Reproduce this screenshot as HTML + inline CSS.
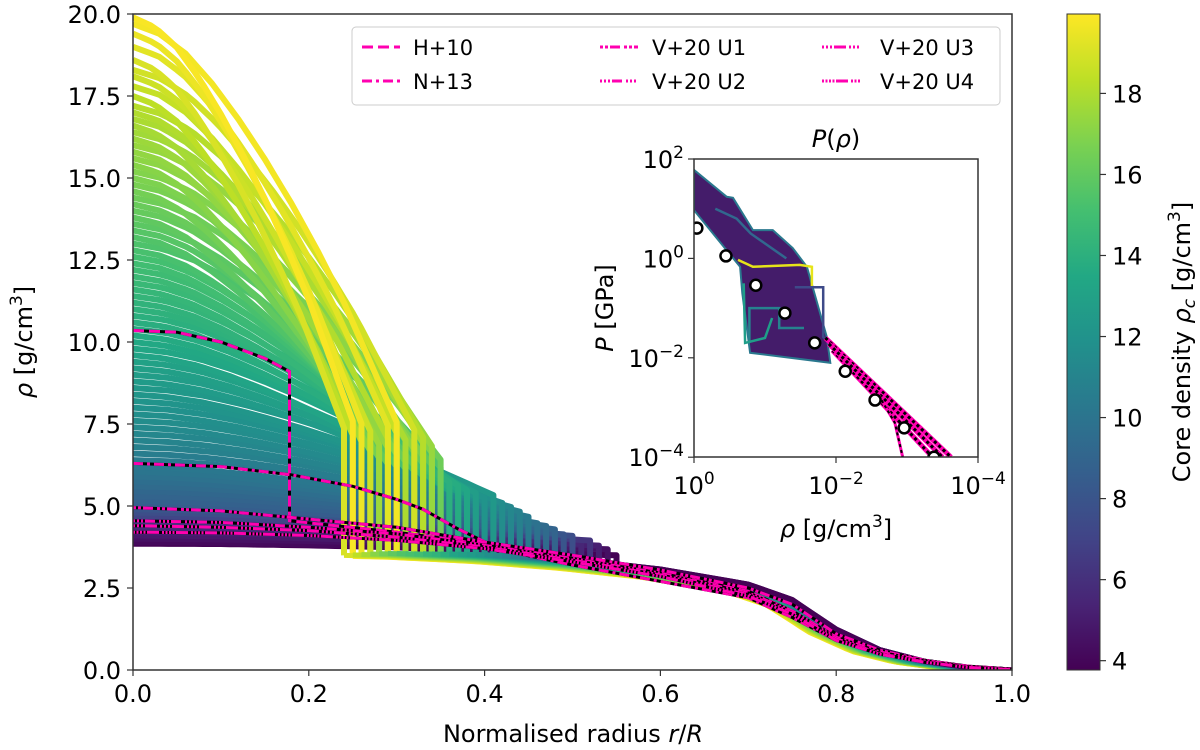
<!DOCTYPE html>
<html><head><meta charset="utf-8"><style>
html,body{margin:0;padding:0;background:#fff}
svg{display:block;font-family:"DejaVu Sans","Liberation Sans",sans-serif}
</style></head><body>
<svg id="chart" width="1200" height="750" viewBox="0 0 1200 750" xmlns="http://www.w3.org/2000/svg">
<defs>
<clipPath id="mainClip"><rect x="133" y="14" width="879" height="656"/></clipPath>
<clipPath id="insetClip"><rect x="694" y="159" width="284" height="298"/></clipPath>
<linearGradient id="cbGrad" x1="0" y1="1" x2="0" y2="0">
<stop offset="0" stop-color="#440154"/><stop offset="0.1" stop-color="#482475"/><stop offset="0.2" stop-color="#414487"/><stop offset="0.3" stop-color="#355f8d"/><stop offset="0.4" stop-color="#2a788e"/><stop offset="0.5" stop-color="#21918c"/><stop offset="0.6" stop-color="#22a884"/><stop offset="0.7" stop-color="#44bf70"/><stop offset="0.8" stop-color="#7ad151"/><stop offset="0.9" stop-color="#bddf26"/><stop offset="1" stop-color="#fde725"/>
</linearGradient>
</defs>
<g id="ensemble" clip-path="url(#mainClip)"></g>
<g id="models" clip-path="url(#mainClip)"></g>
<rect x="133" y="14" width="879" height="656" fill="none" stroke="#333" stroke-width="1.5"/>
<g id="mainAxes"></g>
<text x="573" y="742" font-size="24" text-anchor="middle">Normalised radius <tspan font-style="italic">r</tspan>/<tspan font-style="italic">R</tspan></text>
<text transform="translate(32,342) rotate(-90)" font-size="24" text-anchor="middle"><tspan font-style="italic">ρ</tspan> [g/cm<tspan dy="-10" font-size="17">3</tspan><tspan dy="10">]</tspan></text>

<g>
<rect x="352" y="27" width="648" height="78" rx="4" fill="#fff" fill-opacity="0.85" stroke="#ccc" stroke-width="1"/>
<g><line x1="362" y1="47" x2="400" y2="47" stroke="#ff00b0" stroke-width="3" stroke-dasharray="11,5"/><text x="413" y="55" font-size="21">H+10</text></g>
<g><line x1="362" y1="81" x2="400" y2="81" stroke="#ff00b0" stroke-width="3" stroke-dasharray="10,4,3,4"/><text x="413" y="89" font-size="21">N+13</text></g>
<g><line x1="600" y1="47" x2="638" y2="47" stroke="#ff00b0" stroke-width="3" stroke-dasharray="3,2,3,2,10,4"/><text x="652" y="55" font-size="21">V+20 U1</text></g>
<g><line x1="600" y1="81" x2="638" y2="81" stroke="#ff00b0" stroke-width="3" stroke-dasharray="2,2,2,2,2,2,10,4"/><text x="652" y="89" font-size="21">V+20 U2</text></g>
<g><line x1="822" y1="47" x2="860" y2="47" stroke="#ff00b0" stroke-width="3" stroke-dasharray="2,2,2,2,2,2,12,3"/><text x="880" y="55" font-size="21">V+20 U3</text></g>
<g><line x1="822" y1="81" x2="860" y2="81" stroke="#ff00b0" stroke-width="3" stroke-dasharray="2,1.5,2,1.5,2,1.5,2,1.5,12,3"/><text x="880" y="89" font-size="21">V+20 U4</text></g>
</g>

<g>
<rect x="694" y="159" width="284" height="298" fill="#fff"/>
<g id="insetMarks" clip-path="url(#insetClip)"></g>
<rect x="694" y="159" width="284" height="298" fill="none" stroke="#333" stroke-width="1.5"/>
<g id="insetAxes"></g>
<text x="836" y="147" font-size="24" text-anchor="middle"><tspan font-style="italic">P</tspan>(<tspan font-style="italic">ρ</tspan>)</text>
<text transform="translate(613,308) rotate(-90)" font-size="24" text-anchor="middle"><tspan font-style="italic">P</tspan> [GPa]</text>
<text x="836" y="537" font-size="24" text-anchor="middle"><tspan font-style="italic">ρ</tspan> [g/cm<tspan dy="-10" font-size="17">3</tspan><tspan dy="10">]</tspan></text>
</g>

<g>
<rect x="1067" y="14" width="33" height="656" fill="url(#cbGrad)" stroke="#333" stroke-width="1"/>
<g id="cbAxis"></g>
<text transform="translate(1190,342) rotate(-90)" font-size="24" text-anchor="middle">Core density <tspan font-style="italic">ρ</tspan><tspan font-size="17" dy="5" font-style="italic">c</tspan><tspan dy="-5"> [g/cm</tspan><tspan dy="-10" font-size="17">3</tspan><tspan dy="10">]</tspan></text>
</g>
</svg>
<script>
// ---- data ----
var rhoC = [3.8,3.9,4.0,4.1,4.2,4.3,4.4,4.5,4.6,4.7,
4.8,4.9,5.0,5.15,5.3,5.45,5.6,5.75,5.9,6.05,
6.2,6.4,6.6,6.8,7.0,7.2,7.4,7.6,7.8,8.0,
8.2,8.4,8.6,8.8,9.0,9.2,9.4,9.6,9.8,10.0,
10.2,10.4,10.6,10.8,11.0,11.2,11.4,11.6,11.8,12.0,
12.2,12.4,12.6,12.8,13.0,13.2,13.4,13.6,13.8,14.0,
14.2,14.4,14.6,14.8,15.0,15.2,15.4,15.6,15.8,16.0,
16.2,16.4,16.6,16.8,17.0,17.2,17.5,17.8,18.1,18.3,
18.6,19.0,19.4,19.7,19.9];
var coreR = [.55,.52,.54,.5,.53,.51,.49,.52,.5,.48,
.5,.49,.48,.47,.48,.46,.47,.45,.46,.45,
.44,.45,.43,.44,.42,.43,.41,.42,.4,.41,
.4,.39,.41,.38,.39,.37,.38,.36,.38,.37,
.36,.37,.35,.36,.35,.34,.35,.33,.34,.33,
.34,.32,.33,.31,.35,.3,.32,.34,.29,.33,
.31,.35,.28,.33,.3,.34,.27,.32,.29,.34,
.28,.33,.26,.31,.29,.33,.25,.3,.27,.32,
.24,.29,.26,.3,.25];
// colour scale value (core density) as a function of the central density
var colorKeyRho = [3.8,4.5,5.0,6.0,7.5,10,12.5,15,20];
var colorKeyVal = [3.8,6.2,8.5,10.0,11.5,13.5,15.0,16.8,19.9];
var mantleR = [0,0.1,0.2,0.3,0.4,0.5,0.6,0.7,0.75,0.8,0.85,0.9,0.95,1.0];
var mantleRho = [3.85,3.84,3.8,3.74,3.6,3.38,3.08,2.62,2.15,1.25,0.62,0.27,0.08,0];
var coreShapeU = [0,.1,.2,.3,.4,.5,.6,.7,.8,.9,1];
var coreShapeH = [0,.025,.075,.15,.24,.34,.45,.57,.7,.85,1];
var dropKeys = [4,6,10,14,20];
var dropVals = [0.08,0.25,0.45,0.55,0.62];

var modelNames = ["H+10","N+13","V+20 U1","V+20 U2","V+20 U3","V+20 U4"];
var modelR = [
[0,0.05,0.1,0.15,0.178,0.178,0.3,0.4,0.5,0.6,0.7,0.75,0.8,0.85,0.9,0.95,1],
[0,0.1,0.18,0.25,0.3,0.33,0.37,0.42,0.5,0.6,0.7,0.75,0.8,0.85,0.9,0.95,1],
[0,0.1,0.2,0.3,0.4,0.5,0.6,0.7,0.75,0.8,0.85,0.9,0.95,1],
[0,0.1,0.2,0.3,0.4,0.5,0.6,0.7,0.75,0.8,0.85,0.9,0.95,1],
[0,0.1,0.2,0.3,0.4,0.5,0.6,0.7,0.75,0.8,0.85,0.9,0.95,1],
[0,0.1,0.2,0.3,0.4,0.5,0.6,0.7,0.75,0.8,0.85,0.9,0.95,1]];
var modelRho = [
[10.35,10.3,10.0,9.5,9.1,4.55,4.2,3.85,3.4,3.0,2.4,1.8,1.0,0.5,0.25,0.1,0.02],
[6.3,6.2,5.95,5.6,5.2,4.9,4.3,3.65,3.2,2.7,2.2,1.6,0.9,0.55,0.3,0.12,0.03],
[4.95,4.85,4.6,4.35,3.9,3.5,3.05,2.5,2.0,1.1,0.6,0.3,0.1,0.02],
[4.55,4.5,4.35,4.15,3.8,3.4,2.95,2.35,1.8,1.0,0.55,0.28,0.1,0.02],
[4.4,4.35,4.25,4.05,3.75,3.35,2.9,2.3,1.75,0.95,0.5,0.25,0.08,0.02],
[4.2,4.18,4.1,3.95,3.7,3.3,2.85,2.25,1.7,0.9,0.48,0.24,0.08,0.01]];
var modelDash = ["11,5","10,4,3,4","3,2,3,2,10,4","2,2,2,2,2,2,10,4","2,2,2,2,2,2,12,3","2,1.5,2,1.5,2,1.5,2,1.5,12,3"];

var xTicks = [0,0.2,0.4,0.6,0.8,1.0];
var xTickLabels = ["0.0","0.2","0.4","0.6","0.8","1.0"];
var yTicks = [0,2.5,5,7.5,10,12.5,15,17.5,20];
var yTickLabels = ["0.0","2.5","5.0","7.5","10.0","12.5","15.0","17.5","20.0"];
var cbTicks = [4,6,8,10,12,14,16,18];
var cbMin = 3.77, cbMax = 19.96;

// inset data (log10 rho, log10 P)
var bandUpperLr = [0,-0.46,-0.55,-0.83,-1.11,-1.39,-1.59,-1.87,-1.92];
var bandUpperLp = [1.78,1.24,1.22,0.57,0.57,0.21,-0.17,-1.58,-2.1];
var bandLowerLr = [0,-0.65,-0.68,-0.79,-1.92];
var bandLowerLp = [0.97,-0.17,-0.7,-1.9,-2.1];
var insetLinesLr = [[-0.62,-0.83,-1.49,-1.66,-1.66],[-1.42,-1.82,-1.82,-1.92],[-0.78,-0.78,-1.2,-1.2,-1.55],[-0.3,-0.6,-0.8,-1.0,-1.3],[-0.7,-0.72,-1.0,-1.1]];
var insetLinesLp = [[-0.03,-0.17,-0.13,-0.17,-0.58],[-0.58,-0.58,-1.58,-1.74],[-1.7,-1.0,-1.0,-1.4,-1.4],[1.0,0.8,0.5,0.3,0.0],[-0.5,-1.7,-1.6,-1.2]];
var insetLineColors = ["#e6e419","#3e4a89","#26828e","#31688e","#1f9e89"];
var pinkLr = [[-1.85,-3.62],[-1.95,-3.36],[-1.9,-3.5],[-2.6,-2.83,-2.94]];
var pinkLp = [[-1.6,-4.0],[-1.85,-4.0],[-1.72,-4.0],[-2.75,-3.31,-4.0]];
var circLr = [-0.04,-0.45,-0.87,-1.28,-1.70,-2.13,-2.55,-2.96,-3.38];
var circLp = [0.61,0.05,-0.54,-1.10,-1.70,-2.27,-2.85,-3.41,-4.0];
var insetYTicks = [2,0,-2,-4];
var insetXTicks = [0,-2,-4];

// ---- helpers ----
var NS = "http://www.w3.org/2000/svg";
function xS(r){return 133 + r*879;}
function yS(v){return 670 - v*32.8;}
function ix(lr){return 694 + (-lr)*71;}
function iy(lp){return 159 + (2-lp)*49.7;}
function cy(v){return 670 - (v-cbMin)/(cbMax-cbMin)*656;}
function interp(xs, ys, x){
  if (x<=xs[0]) return ys[0];
  for (var i=1;i<xs.length;i++){ if (x<=xs[i]){ var f=(x-xs[i-1])/(xs[i]-xs[i-1]); return ys[i-1]+f*(ys[i]-ys[i-1]); } }
  return ys[ys.length-1];
}
var vir = ["#440154","#482475","#414487","#355f8d","#2a788e","#21918c","#22a884","#44bf70","#7ad151","#bddf26","#fde725"];
function hex(c){return [parseInt(c.substr(1,2),16),parseInt(c.substr(3,2),16),parseInt(c.substr(5,2),16)];}
function viridis(t){
  t=Math.max(0,Math.min(1,t)); var p=t*10, i=Math.min(9,Math.floor(p)), f=p-i;
  var a=hex(vir[i]), b=hex(vir[i+1]);
  return "rgb("+Math.round(a[0]+f*(b[0]-a[0]))+","+Math.round(a[1]+f*(b[1]-a[1]))+","+Math.round(a[2]+f*(b[2]-a[2]))+")";
}
function mk(tag, attrs, parent){var e=document.createElementNS(NS,tag); for (var k in attrs) e.setAttribute(k, attrs[k]); parent.appendChild(e); return e;}

// ---- ensemble ----
var ens = document.getElementById("ensemble");
var coreParts = [], mantleParts = [], colors = [];
for (var c=0;c<rhoC.length;c++){
  var rc0 = rhoC[c], rcut = coreR[c];
  var t = (rc0-3.8)/16.1;
  var s = interp(dropKeys, dropVals, rc0);
  var a = 1-0.08*t;
  var mantle = (function(a,t){ return function(r){ return a*interp(mantleR, mantleRho, Math.min(1, r*(1+0.04*t))); }; })(a,t);
  var cp=[], mp=[];
  for (var k=0;k<=100;k++){
    var r=k/100;
    if (r<=rcut){
      var v = Math.max(rc0*(1-s*interp(coreShapeU, coreShapeH, r/rcut)), mantle(r));
      cp.push(xS(r).toFixed(1)+","+yS(v).toFixed(1));
      if ((k+1)/100>rcut){
        var ve = Math.max(rc0*(1-s), mantle(rcut));
        cp.push(xS(rcut).toFixed(1)+","+yS(ve).toFixed(1));
        cp.push(xS(rcut).toFixed(1)+","+yS(mantle(rcut)).toFixed(1));
        mp.push(xS(rcut).toFixed(1)+","+yS(mantle(rcut)).toFixed(1));
      }
    } else {
      mp.push(xS(r).toFixed(1)+","+yS(mantle(r)).toFixed(1));
    }
  }
  coreParts.push(cp); mantleParts.push(mp);
  colors.push(viridis((interp(colorKeyRho, colorKeyVal, rc0)-cbMin)/(cbMax-cbMin)));
}
// cores: ascending (bright on top)
for (var c=0;c<rhoC.length;c++){
  var pl = mk("polyline",{points:coreParts[c].join(" "),fill:"none",stroke:colors[c],"stroke-width":"6","stroke-linejoin":"round"},ens);
  
  
}
// mantles: descending (dark on top)
for (var c=rhoC.length-1;c>=0;c--){
  var pl = mk("polyline",{points:mantleParts[c].join(" "),fill:"none",stroke:colors[c],"stroke-width":"5","stroke-linejoin":"round"},ens);
  
  
}

// ---- model curves ----
var mg = document.getElementById("models");
for (var m=0;m<modelNames.length;m++){
  var p=[];
  for (var j=0;j<modelR[m].length;j++) p.push(xS(modelR[m][j]).toFixed(1)+","+yS(modelRho[m][j]).toFixed(1));
  var b = mk("polyline",{points:p.join(" "),fill:"none",stroke:"#000","stroke-width":"3"},mg);
  
  
  var d = mk("polyline",{points:p.join(" "),fill:"none",stroke:"#ff00b0","stroke-width":"3","stroke-dasharray":modelDash[m]},mg);
  
  
}

// ---- main axes ----
var ax = document.getElementById("mainAxes");
for (var i=0;i<xTicks.length;i++){
  var tk = mk("line",{x1:xS(xTicks[i]),y1:670,x2:xS(xTicks[i]),y2:676,stroke:"#333","stroke-width":"1.2"},ax);
  
  
  var tl = mk("text",{x:xS(xTicks[i]),y:702,"font-size":"24","text-anchor":"middle"},ax);
  tl.textContent = xTickLabels[i];
  
  
}
for (var i=0;i<yTicks.length;i++){
  var tk = mk("line",{x1:127,y1:yS(yTicks[i]),x2:133,y2:yS(yTicks[i]),stroke:"#333","stroke-width":"1.2"},ax);
  
  
  var tl = mk("text",{x:121,y:yS(yTicks[i])+9,"font-size":"24","text-anchor":"end"},ax);
  tl.textContent = yTickLabels[i];
  
  
}

// ---- inset ----
var im = document.getElementById("insetMarks");
var bp=[];
for (var i=0;i<bandUpperLr.length;i++) bp.push(ix(bandUpperLr[i]).toFixed(1)+","+iy(bandUpperLp[i]).toFixed(1));
for (var i=bandLowerLr.length-1;i>=0;i--) bp.push(ix(bandLowerLr[i]).toFixed(1)+","+iy(bandLowerLp[i]).toFixed(1));
var band = mk("polygon",{points:bp.join(" "),fill:"#441c6a",stroke:"#2a788e","stroke-width":"2"},im);


for (var i=0;i<insetLinesLr.length;i++){
  var p=[]; for (var j=0;j<insetLinesLr[i].length;j++) p.push(ix(insetLinesLr[i][j]).toFixed(1)+","+iy(insetLinesLp[i][j]).toFixed(1));
  var l = mk("polyline",{points:p.join(" "),fill:"none",stroke:insetLineColors[i],"stroke-width":"2.5"},im);
  
  
}
for (var i=0;i<pinkLr.length;i++){
  var p=[]; for (var j=0;j<pinkLr[i].length;j++) p.push(ix(pinkLr[i][j]).toFixed(1)+","+iy(pinkLp[i][j]).toFixed(1));
  var l = mk("polyline",{points:p.join(" "),fill:"none",stroke:"#ff00b0","stroke-width":i==3?"3":"5"},im);
  
  
  var l2 = mk("polyline",{points:p.join(" "),fill:"none",stroke:"#000","stroke-width":i==3?"2":"3","stroke-dasharray":"3,3"},im);
  
  
}
for (var i=0;i<circLr.length;i++){
  var ci = mk("circle",{cx:ix(circLr[i]),cy:iy(circLp[i]),r:"5.5",fill:"#fff",stroke:"#000","stroke-width":"2.5"},im);
  
  
}
var ia = document.getElementById("insetAxes");
for (var i=0;i<insetYTicks.length;i++){
  var yy=iy(insetYTicks[i]);
  var tk=mk("line",{x1:688,y1:yy,x2:694,y2:yy,stroke:"#333","stroke-width":"1.2"},ia);
  
  
  var tl=mk("text",{x:684,y:yy+9,"font-size":"24","text-anchor":"end"},ia);
  
  
  tl.innerHTML = '10<tspan dy="-10" font-size="17">'+(insetYTicks[i]<0?'\u2212'+(-insetYTicks[i]):insetYTicks[i])+'</tspan>';
}
for (var i=0;i<insetXTicks.length;i++){
  var xx=ix(insetXTicks[i]);
  var tk=mk("line",{x1:xx,y1:457,x2:xx,y2:463,stroke:"#333","stroke-width":"1.2"},ia);
  
  
  var tl=mk("text",{x:xx,y:494,"font-size":"24","text-anchor":"middle"},ia);
  
  
  tl.innerHTML = '10<tspan dy="-10" font-size="17">'+(insetXTicks[i]<0?'\u2212'+(-insetXTicks[i]):insetXTicks[i])+'</tspan>';
}

// ---- colorbar axis ----
var cb = document.getElementById("cbAxis");
for (var i=0;i<cbTicks.length;i++){
  var yy=cy(cbTicks[i]);
  var tk=mk("line",{x1:1100,y1:yy,x2:1106,y2:yy,stroke:"#333","stroke-width":"1.2"},cb);
  
  
  var tl=mk("text",{x:1112,y:yy+9,"font-size":"24"},cb);
  tl.textContent = cbTicks[i];
  
  
}
</script>
</body></html>
